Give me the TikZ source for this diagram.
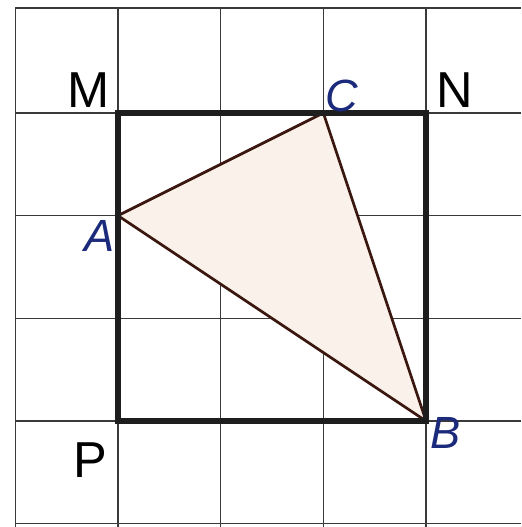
\documentclass[tikz,border=0pt]{standalone}
\usepackage{fontspec}
\setmainfont{Liberation Sans}
\usepackage{xcolor}
\usepackage{tikz}
\usetikzlibrary{positioning,calc}
\definecolor{ink}{HTML}{1E1E1E}
\definecolor{gridline}{HTML}{3A3A3A}
\definecolor{pointblue}{HTML}{1B2A7A}
\definecolor{trifill}{HTML}{FAF2EA}
\definecolor{triedge}{HTML}{3A1810}

\begin{document}
\begin{tikzpicture}[
  corner/.style={font=\fontsize{14}{16}\selectfont,text=black,inner sep=1pt},
  pt/.style={font=\fontsize{12.5}{14}\selectfont\itshape,text=pointblue,inner sep=1pt},
  thin grid/.style={draw=gridline,line width=0.4pt},
  frame/.style={draw=ink,line width=1.5pt},
  side/.style={draw=triedge,line width=0.75pt,line join=round}]

\useasboundingbox (-1.149,-1.032) rectangle (3.925,4.10);
\fill[white] (-1.149,-1.032) rectangle (3.925,4.10);

% grid of squares
\foreach \x in {-1,0,1,2,3}
  \draw[thin grid] (\x,-1.032) -- (\x,4.02);
\foreach \y in {-1,0,1,2,3,4.02}
  \draw[thin grid] (-1,\y) -- (3.925,\y);

% points
\coordinate (P) at (0,0);
\coordinate (N) at (3,3);
\coordinate (A) at (0,2);
\coordinate (C) at (2,3);
\coordinate (B) at (3,0);

% triangle ABC
\fill[trifill] (A) -- (C) -- (B) -- cycle;
\draw[side] (A) -- (C) -- (B) -- cycle;

% square MNBP
\draw[frame] (P) rectangle (N);

% labels
\node[corner] (lM) at (-0.29,3.22) {M};
\node[corner] (lN) at (3.28,3.22) {N};
\node[corner] (lP) at (-0.27,-0.38) {P};
\node[pt] (lC) at (2.18,3.17) {C};
\node[pt] (lA) at (-0.18,1.80) {A};
\node[pt] (lB) at (3.19,-0.12) {B};
\end{tikzpicture}
\end{document}
